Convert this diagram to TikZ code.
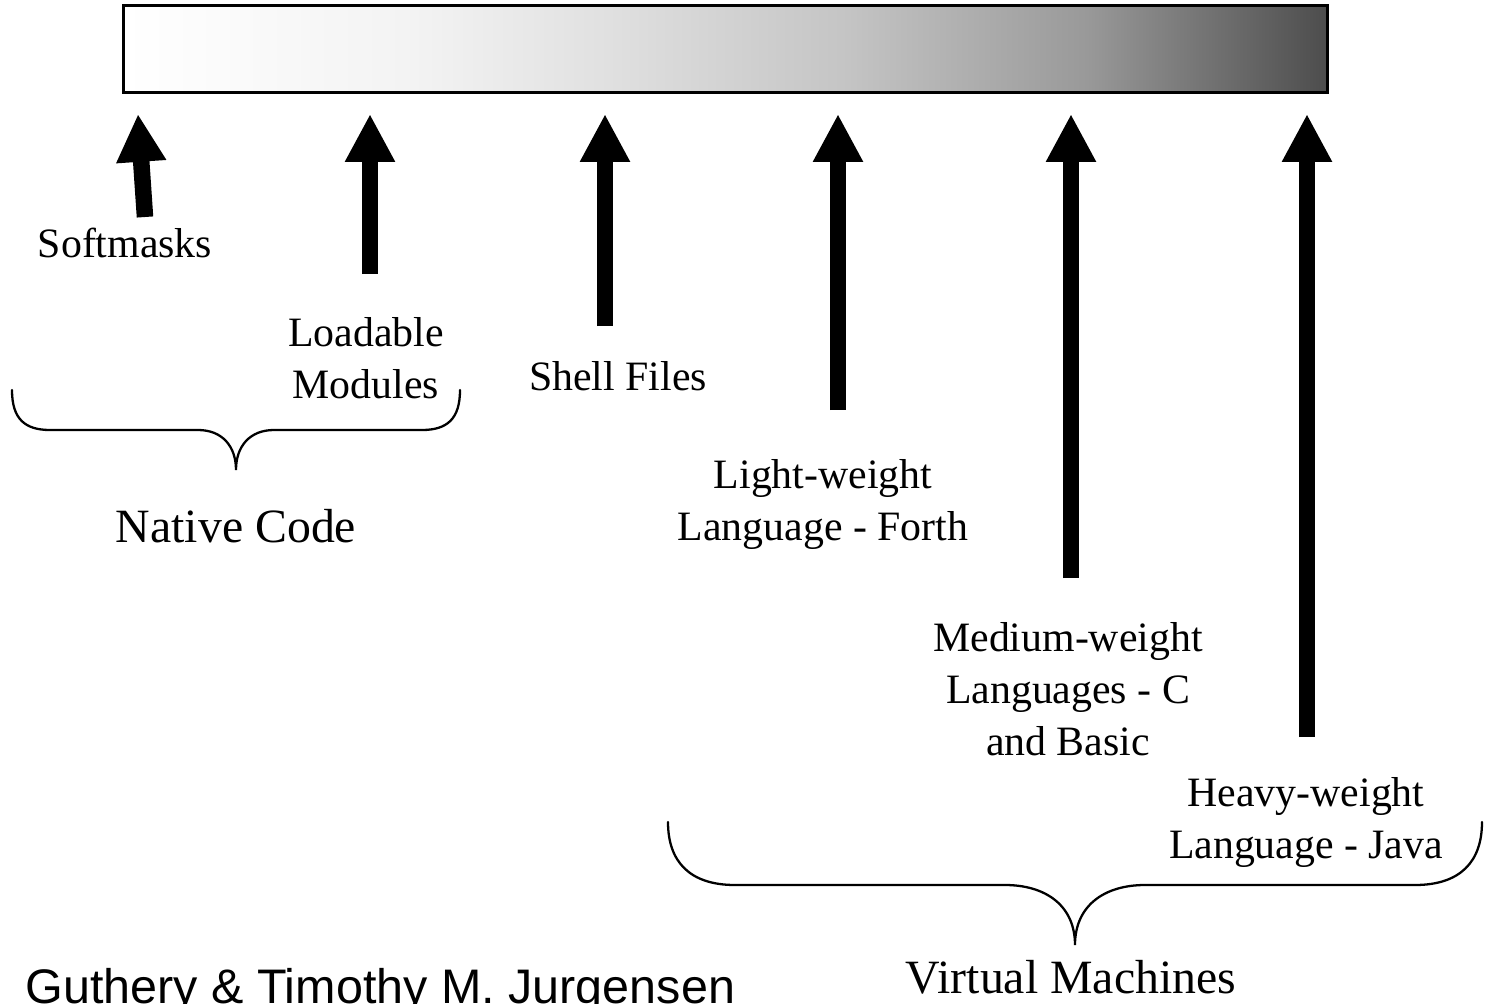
\documentclass[tikz,border=0pt]{standalone}
\usepackage{fontspec}
\setmainfont{Liberation Serif}
\newfontfamily\creditfont{Liberation Sans}
\usetikzlibrary{arrows.meta}

% light on the left, dark on the right (stops kept between 25bp and 75bp)
\pgfdeclarehorizontalshading{barfade}{100bp}{color(0bp)=(white); color(25bp)=(white);
  color(37.5bp)=(white!95!black); color(45bp)=(white!88!black); color(55bp)=(white!77!black);
  color(65bp)=(white!60!black); color(75bp)=(black!70); color(100bp)=(black!70)}

\begin{document}
\begin{tikzpicture}[x=0.02cm, y=-0.02cm,
  label/.style={align=center, anchor=base, inner sep=0pt, font=\fontsize{23.8}{29.5}\selectfont},
  group/.style={anchor=base, inner sep=0pt, font=\fontsize{27.2}{32}\selectfont},
  bigarrow/.style={line width=9.4pt, -{Triangle[width=26.6pt, length=27.2pt]}},
  brace/.style={line width=1.3pt, line cap=round}]
  \useasboundingbox (0,0) rectangle (1488,1004);

  % Shaded bar on top
  \node[draw, line width=1.7pt, shading=barfade, minimum width=24.1cm, minimum height=1.76cm,
    inner sep=0pt, outer sep=0pt] (bar) at (725.5,49) {};

  % Labels under the arrows (multi-line ones sit on their bottom edge)
  \node[label] (softmasks) at (125,257) {Softmasks};
  \node[label] (loadable) at (366,398) {Loadable\\Modules};
  \node[label] (shell) at (618,390) {Shell Files};
  \node[label] (light) at (823,540) {Light-weight\\Language - Forth};
  \node[label] (medium) at (1068,755) {Medium-weight\\Languages - C\\and Basic};
  \node[label] (heavy) at (1306,858) {Heavy-weight\\Language - Java};

  % Arrow ends
  \coordinate (s1) at (145,217); \coordinate (h1) at (138,114);
  \coordinate (s2) at (370,274); \coordinate (h2) at (370,114);
  \coordinate (s3) at (605,326); \coordinate (h3) at (605,114);
  \coordinate (s4) at (838,410); \coordinate (h4) at (838,114);
  \coordinate (s5) at (1071,578); \coordinate (h5) at (1071,114);
  \coordinate (s6) at (1307,737); \coordinate (h6) at (1307,114);

  \draw[bigarrow] (s1) -- (h1);
  \draw[bigarrow] (s2) -- (h2);
  \draw[bigarrow] (s3) -- (h3);
  \draw[bigarrow] (s4) -- (h4);
  \draw[bigarrow] (s5) -- (h5);
  \draw[bigarrow] (s6) -- (h6);

  % Braces
  \draw[brace] (12,390) .. controls (12,418) and (24,430) .. (50,430) -- (198,430)
    .. controls (222,430) and (236,446) .. (236,470)
    .. controls (236,446) and (250,430) .. (274,430) -- (422,430)
    .. controls (448,430) and (460,418) .. (460,390);
  \draw[brace] (668,822) .. controls (668,862) and (690,885) .. (735,885) -- (1005,885)
    .. controls (1045,885) and (1075,905) .. (1075,945)
    .. controls (1075,905) and (1105,885) .. (1145,885) -- (1415,885)
    .. controls (1460,885) and (1482,862) .. (1482,822);

  \node[group] (native) at (236,542) {Native Code};
  \node[group] (virtual) at (1071,993) {Virtual Machines};

  \node[anchor=base west, inner sep=0pt, font=\creditfont\fontsize{27.6}{32}\selectfont]
    (credit) at (25,1003) {Guthery \& Timothy M. Jurgensen};
\end{tikzpicture}
\end{document}
